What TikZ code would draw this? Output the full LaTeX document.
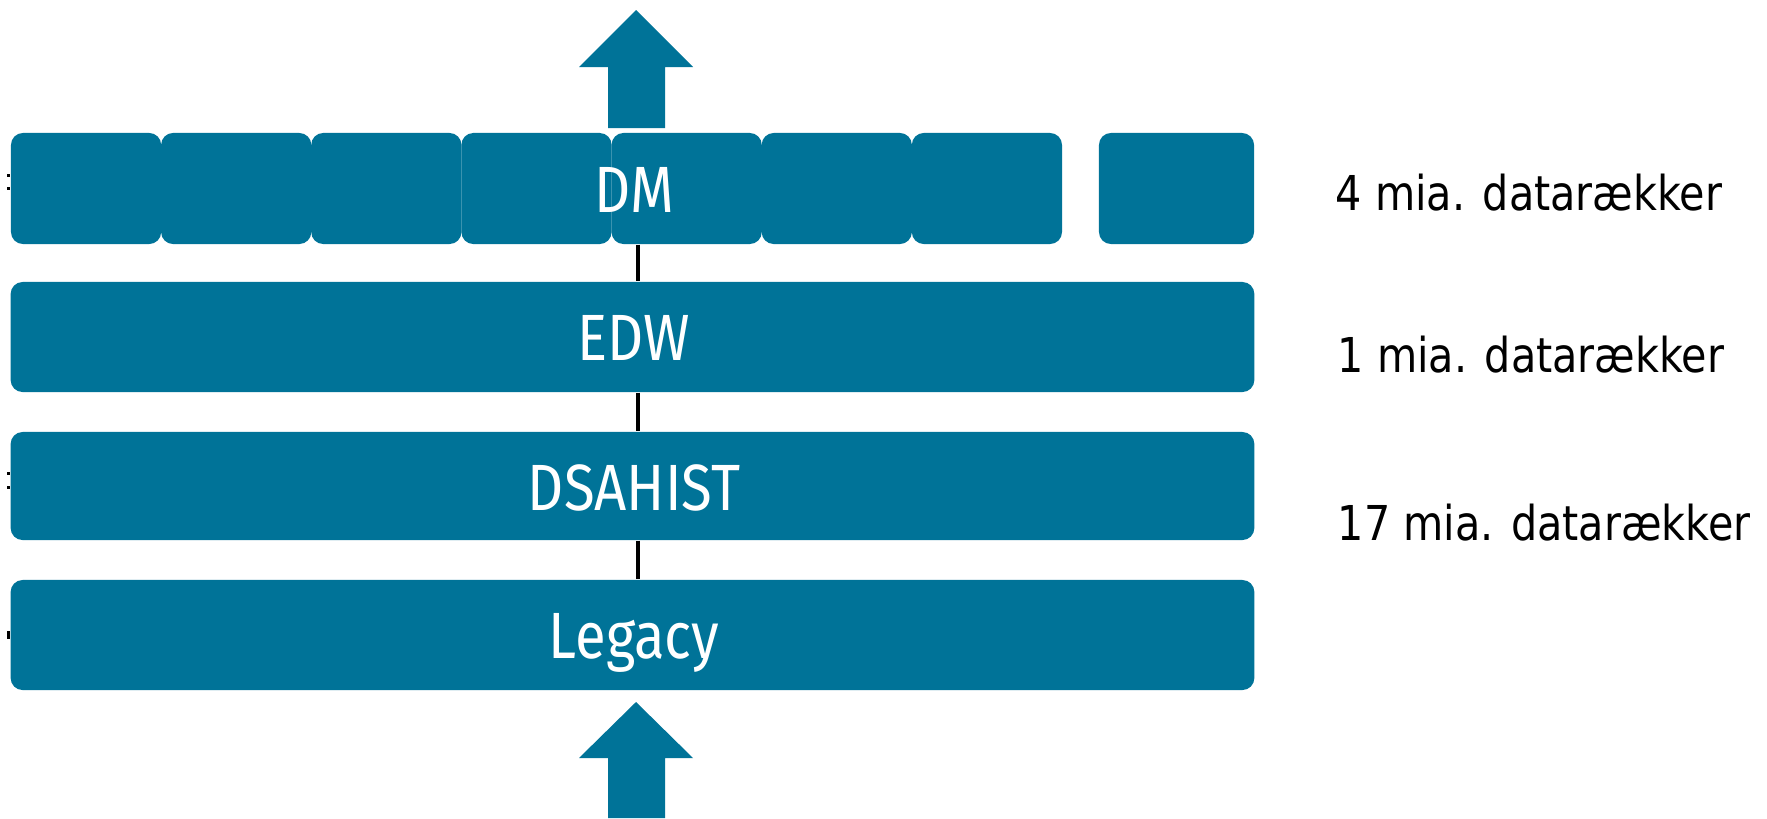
\documentclass[tikz,border=0pt]{standalone}
\usepackage{fontspec}
\newfontfamily\boxfont[FakeStretch=0.86]{Fira Sans}
\newfontfamily\labfont[FakeStretch=0.86]{DejaVu Sans}
\definecolor{teal}{RGB}{0,115,152}
\begin{document}
\begin{tikzpicture}[x=0.01cm,y=-0.01cm,
  layer/.style={fill=teal,draw=none,rounded corners=0.12cm,inner sep=0pt,
    minimum height=1.1cm},
  seg/.style={layer,minimum width=1.5014cm,minimum height=1.11cm},
  boxtext/.style={text=white,font=\boxfont\fontsize{18.6}{20}\selectfont,
    inner sep=0pt,anchor=base},
  rowlabel/.style={text=black,font=\labfont\fontsize{13.66}{15}\selectfont,
    inner sep=0pt,anchor=base west},
  conn/.style={draw=black,line width=1.1pt},
  bigarrow/.style={fill=teal,draw=none}]
\useasboundingbox (0,0) rectangle (1767,818);
% DM row: seven touching segments and one separate box
\foreach \i in {1,...,7}{
  \node[seg] (dm\i) at ({11+150.14*(\i-0.5)},188.5) {};
}
\node[seg,minimum width=1.55cm] (dm8) at (1176.5,188.5) {};
\node[boxtext] (dmlabel) at (634,212) {DM};
% other rows
\node[layer,minimum width=12.43cm,minimum height=1.10cm] (edw) at (632.5,337) {};
\node[boxtext] (edwlabel) at (634,360) {EDW};
\node[layer,minimum width=12.43cm,minimum height=1.08cm] (dsahist) at (632.5,486) {};
\node[boxtext] (dsahistlabel) at (634,510) {DSAHIST};
\node[layer,minimum width=12.43cm,minimum height=1.10cm] (legacy) at (632.5,635) {};
\node[boxtext] (legacylabel) at (634,658) {Legacy};
% spine
\coordinate (spine) at (638,0);
\draw[conn] (spine |- dm4.south) -- (spine |- edw.north);
\draw[conn] (spine |- edw.south) -- (spine |- dsahist.north);
\draw[conn] (spine |- dsahist.south) -- (spine |- legacy.north);
% big arrows
\fill[bigarrow] (636,10) -- (693,67) -- (665,67) -- (665,128) -- (608,128) -- (608,67) -- (579,67) -- cycle;
\fill[bigarrow] (636,702) -- (693,758) -- (665,758) -- (665,818) -- (608,818) -- (608,758) -- (579,758) -- cycle;
% small clipped marks at the left edge
\fill[black] (7,174) rectangle (10,177);
\fill[black] (7,187) rectangle (10,190);
\fill[black] (7,472) rectangle (10,475);
\fill[black] (7,486) rectangle (10,489);
\fill[black] (7,631) rectangle (10,639);
% right labels
\node[rowlabel] (l1) at (1335,210) {4 mia. datarækker};
\node[rowlabel] (l2) at (1337,372) {1 mia. datarækker};
\node[rowlabel] (l3) at (1337,540) {17 mia. datarækker};
\end{tikzpicture}
\end{document}
